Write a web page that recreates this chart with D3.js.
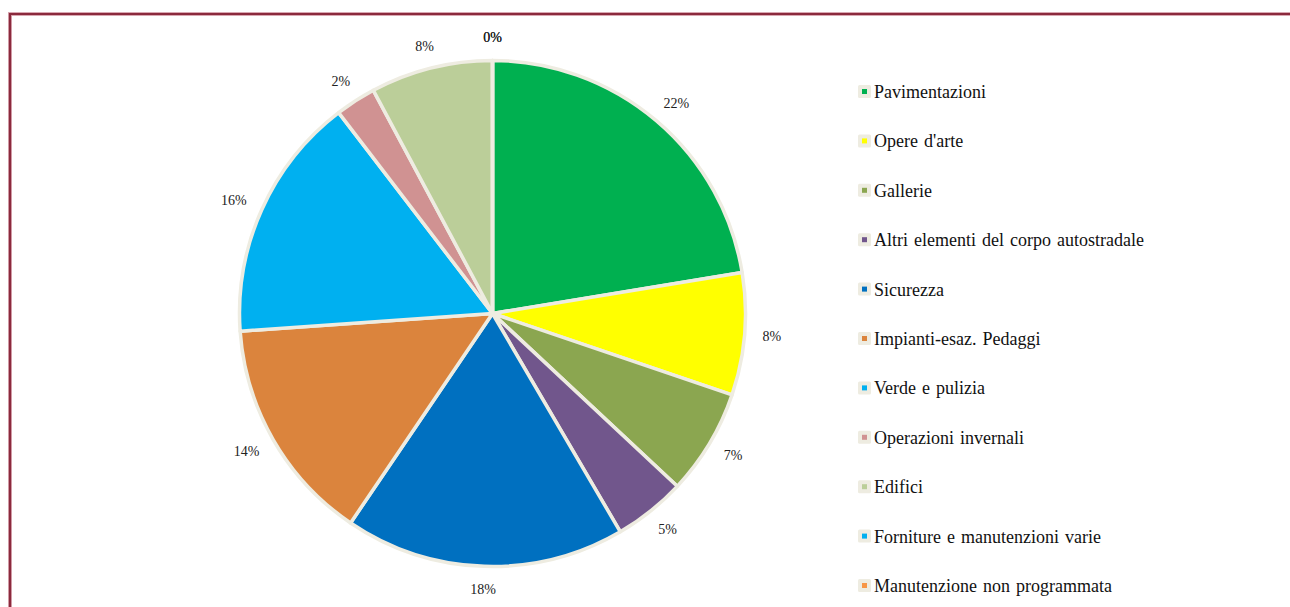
<!DOCTYPE html>
<html><head><meta charset="utf-8">
<script src="https://cdn.jsdelivr.net/npm/d3@7"></script>
<style>body{margin:0;background:#fff}svg{display:block}text{font-family:'Liberation Serif','Times New Roman',serif}</style>
</head><body>
<svg id="c" width="1290" height="607"></svg>
<script>
const categories = ["Pavimentazioni","Opere d'arte","Gallerie","Altri elementi del corpo autostradale","Sicurezza","Impianti-esaz. Pedaggi","Verde e pulizia","Operazioni invernali","Edifici","Forniture e manutenzioni varie","Manutenzione non programmata"];
const values = [22.4, 7.8, 6.75, 4.6, 17.9, 14.4, 15.7, 2.6, 7.8, 0, 0];
const labels = ["22%","8%","7%","5%","18%","14%","16%","2%","8%","0%","0%"];
const colors = ["#00B050","#FFFF00","#8BA650","#71568C","#0070C0","#DB843D","#00B0F0","#D09292","#BBCE99","#00B0F0","#F79646"];

const svg = d3.select("#c");
svg.append("path").attr("d","M10,1000 L10,14 L1300,14").attr("fill","none").attr("stroke","#d9a8b2").attr("stroke-width",4);
svg.append("path").attr("d","M10,1000 L10,14 L1300,14").attr("fill","none").attr("stroke","#8B2A3D").attr("stroke-width",2.2);

const cx = 492.5, cy = 313.5, R = 253;
const pie = d3.pie().sort(null).value(d => d);
const arcs = pie(values);
const arc = d3.arc().innerRadius(0).outerRadius(R);
const g = svg.append("g").attr("transform", `translate(${cx},${cy})`);
g.selectAll("path.s").data(arcs).join("path").attr("class","s")
  .attr("d", arc).attr("fill", (d,i) => colors[i])
  .attr("stroke","#EEECE1").attr("stroke-width",3.5).attr("stroke-linejoin","round");

const lr = 271, fs = 14;
g.selectAll("text.l").data(arcs).join("text").attr("class","l")
  .attr("text-anchor","middle").attr("dy","0.35em")
  .attr("font-size",fs).attr("fill","#222")
  .text((d,i) => labels[i])
  .attr("transform", function(d){
    const a = (d.startAngle + d.endAngle)/2;
    const ux = Math.sin(a), uy = -Math.cos(a);
    const w = this.getComputedTextLength();
    const x = lr*ux + (w/2)*ux, y = lr*uy + 5*uy;
    return `translate(${x},${y})`;
  });

const ly = d3.scalePoint().domain(categories).range([92, 586]);
const items = svg.append("g").selectAll("g").data(categories).join("g").attr("transform", d => `translate(858,${ly(d)})`);
items.append("rect").attr("x",0).attr("y",-7).attr("width",13).attr("height",13).attr("rx",1.5).attr("fill","#EEECE1");
items.append("rect").attr("x",4).attr("y",-3).attr("width",5).attr("height",5).attr("fill",(d,i)=>colors[i]);
items.append("text").attr("x",16).attr("dy","0.33em")
  .attr("font-size",18).attr("fill","#111").attr("word-spacing",1.5).text(d => d);
</script>
</body></html>
